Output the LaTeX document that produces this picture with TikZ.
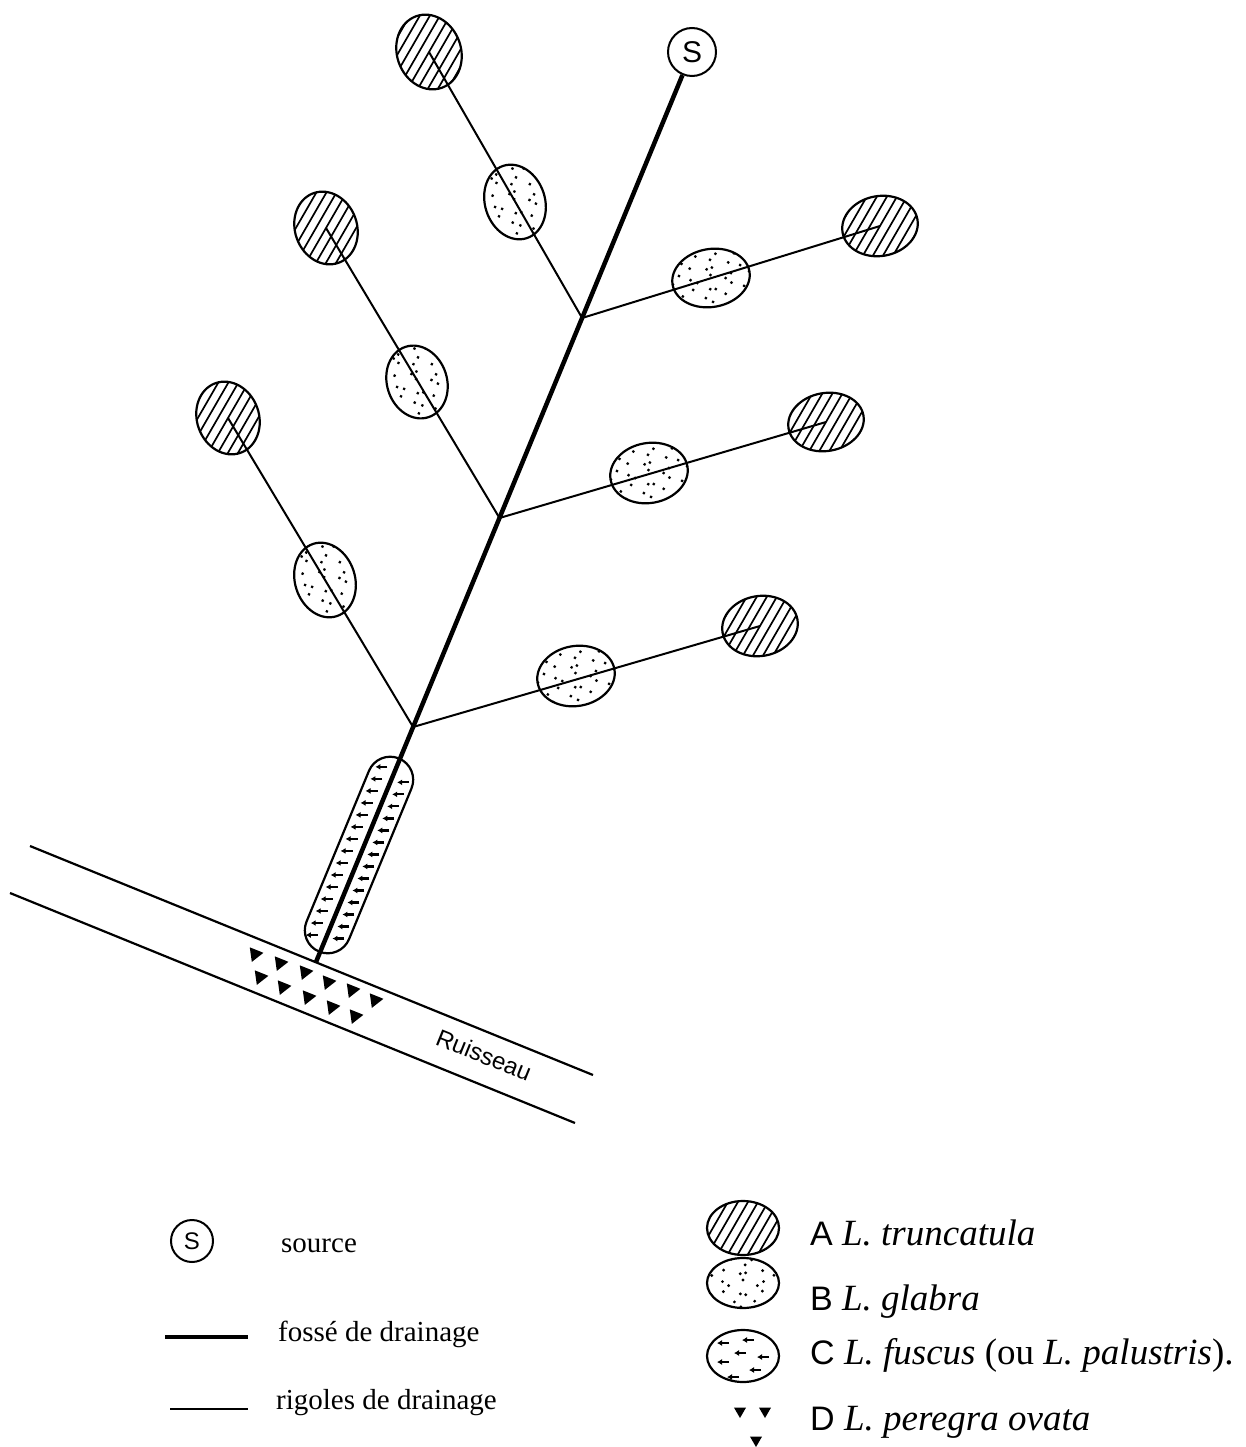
\documentclass[tikz,border=0pt]{standalone}
\usepackage{fontspec}
\setmainfont{Liberation Serif}
\newfontfamily\sansf{Liberation Sans}
\usetikzlibrary{shapes.geometric,calc,arrows.meta}
\begin{document}
\begin{tikzpicture}[x=1pt,y=-1pt,
  hatchell/.style={ellipse, draw, line width=2.2pt, fill=white, inner sep=0pt, rotate=#1,
    path picture={\foreach \k in {-9,...,9}{\draw[line width=1.7pt]
      ($(path picture bounding box.center)+({150-#1}:\k*8.7pt)+({240-#1}:70pt)$) -- ++({60-#1}:140pt);}}},
  hatchell/.default=0,
  dotell/.style={ellipse, draw, line width=2.2pt, fill=white, inner sep=0pt, rotate=#1,
    path picture={\foreach \i in {-4,...,4}{\foreach \j in {-4,...,4}{\fill[black]
      ($(path picture bounding box.center)+({\i*12pt+mod(\j,2)*6pt+3.5pt*sin(137*\i+251*\j)},{\j*10.5pt+3pt*cos(211*\i+97*\j)})$) circle[radius=1.6pt];}}}},
  dotell/.default=0,
  plainell/.style={ellipse, draw, line width=2.2pt, fill=white, inner sep=0pt},
  rig/.style={line width=2pt},
  ditch/.style={line width=4.5pt},
  stream/.style={line width=2.2pt},
  fmark/.style={line width=2.2pt, -{Latex[length=5pt,width=6pt]}},
  srcnode/.style={circle, draw, line width=2pt, fill=white, inner sep=0pt},
  leg/.style={anchor=base west, inner sep=0pt, font=\fontsize{29}{32}\selectfont},
  legsp/.style={anchor=base west, inner sep=0pt, font=\fontsize{37}{40}\selectfont},
  tri/.pic={\fill (0:8.5pt) -- (120:8.5pt) -- (240:8.5pt) -- cycle;},
  ltri/.pic={\fill (0:7pt) -- (120:7pt) -- (240:7pt) -- cycle;}
]
\useasboundingbox (0,0) rectangle (1245,1447);
\fill[white] (0,0) rectangle (1245,1447);

% stream
\coordinate (r1a) at (30,846);
\coordinate (r1b) at (593,1075);
\coordinate (r2a) at (10,893);
\coordinate (r2b) at (575,1123);
\draw[stream] (r1a) -- (r1b);
\draw[stream] (r2a) -- (r2b);
\node[rotate=-22, inner sep=0pt, font=\sansf\fontsize{24}{26}\selectfont] (ruis) at (484,1055) {Ruisseau};

% L. peregra ovata in the stream
\foreach \x/\y in {255/954,280/963,305/972,328/982,352/990,375/1000,
                260/977,283/987,308/997,332/1007,355/1016}
  \pic[rotate=8] at (\x,\y) {tri};

% junctions on the main ditch
\coordinate (mouth) at (316,962);
\coordinate (J3) at (413.1,727);
\coordinate (J2) at (499.5,518);
\coordinate (J1) at (582.1,318);

% L. fuscus zone
\node[draw, line width=2.2pt, fill=white, rectangle, rounded corners=23pt,
      minimum width=46pt, minimum height=209pt, rotate=-22.5, inner sep=0pt] (fus) at (359,855) {};
\foreach \s in {-92,-79,...,92}
  \draw[fmark] ($(fus.center)+({0.383*\s-13*0.924+6},{-0.924*\s-13*0.383})$) -- ++(-12,0);
\foreach \s in {-85,-72,...,86}
  \draw[fmark] ($(fus.center)+({0.383*\s+13*0.924+6},{-0.924*\s+13*0.383})$) -- ++(-12,0);

% ellipses
\node[hatchell=20, minimum width=64pt, minimum height=76pt] (A1) at (429,52) {};
\node[dotell=18,   minimum width=60pt, minimum height=76pt] (B1) at (515,202) {};
\node[hatchell=20, minimum width=62pt, minimum height=74pt] (A3) at (326,228) {};
\node[dotell=18,   minimum width=60pt, minimum height=74pt] (B3) at (417,382) {};
\node[hatchell=20, minimum width=62pt, minimum height=74pt] (A5) at (228,418) {};
\node[dotell=18,   minimum width=60pt, minimum height=76pt] (B5) at (325,580) {};
\node[hatchell=10, minimum width=76pt, minimum height=60pt] (A2) at (880,226) {};
\node[dotell=10,   minimum width=78pt, minimum height=58pt] (B2) at (711,278) {};
\node[hatchell=10, minimum width=76pt, minimum height=58pt] (A4) at (826,422) {};
\node[dotell=10,   minimum width=78pt, minimum height=60pt] (B4) at (649,473) {};
\node[hatchell=10, minimum width=76pt, minimum height=60pt] (A6) at (760,626) {};
\node[dotell=10,   minimum width=78pt, minimum height=60pt] (B6) at (576,676) {};

% source
\node[srcnode, minimum size=48pt, font=\sansf\fontsize{30}{32}\selectfont] (S) at (692,52) {S};

% drainage channels
\draw[rig] (J1) -- (A1.center);
\draw[rig] (J1) -- (A2.center);
\draw[rig] (J2) -- (A3.center);
\draw[rig] (J2) -- (A4.center);
\draw[rig] (J3) -- (A5.center);
\draw[rig] (J3) -- (A6.center);
\draw[ditch] (mouth) -- (S);

% legend left
\node[srcnode, minimum size=42pt, font=\sansf\fontsize{24}{26}\selectfont] (lS) at (192,1241) {S};
\node[leg] (tS) at (281,1252) {source};
\coordinate (lf1) at (165,1337);
\coordinate (lf2) at (248,1337);
\draw[ditch] (lf1) -- (lf2);
\node[leg] (tF) at (278,1341) {fossé de drainage};
\coordinate (lr1) at (170,1409);
\coordinate (lr2) at (248,1409);
\draw[rig] (lr1) -- (lr2);
\node[leg] (tR) at (276,1409) {rigoles de drainage};

% legend right
\node[hatchell, minimum width=72pt, minimum height=54pt] (LA) at (743,1228) {};
\node[dotell, minimum width=72pt, minimum height=50pt] (LB) at (743,1283) {};
\node[plainell, minimum width=72pt, minimum height=52pt] (LC) at (743,1356) {};
\foreach \x/\y in {723/1343,748/1340,740/1353,723/1362,763/1357,755/1370,733/1377}
  \draw[fmark] ({\x+6},\y) -- ++(-12,0);
\pic[rotate=-90] at (740,1411) {ltri};
\pic[rotate=-90] at (765,1411) {ltri};
\pic[rotate=-90] at (756,1440) {ltri};

\node[legsp] (tA) at (810,1245) {{\sansf\fontsize{34}{36}\selectfont A} \textit{L. truncatula}};
\node[legsp] (tB) at (810,1310) {{\sansf\fontsize{34}{36}\selectfont B} \textit{L. glabra}};
\node[legsp] (tC) at (810,1364) {{\sansf\fontsize{34}{36}\selectfont C} \textit{L. fuscus} (ou \textit{L. palustris}).};
\node[legsp] (tD) at (810,1430) {{\sansf\fontsize{34}{36}\selectfont D} \textit{L. peregra ovata}};
\end{tikzpicture}
\end{document}
